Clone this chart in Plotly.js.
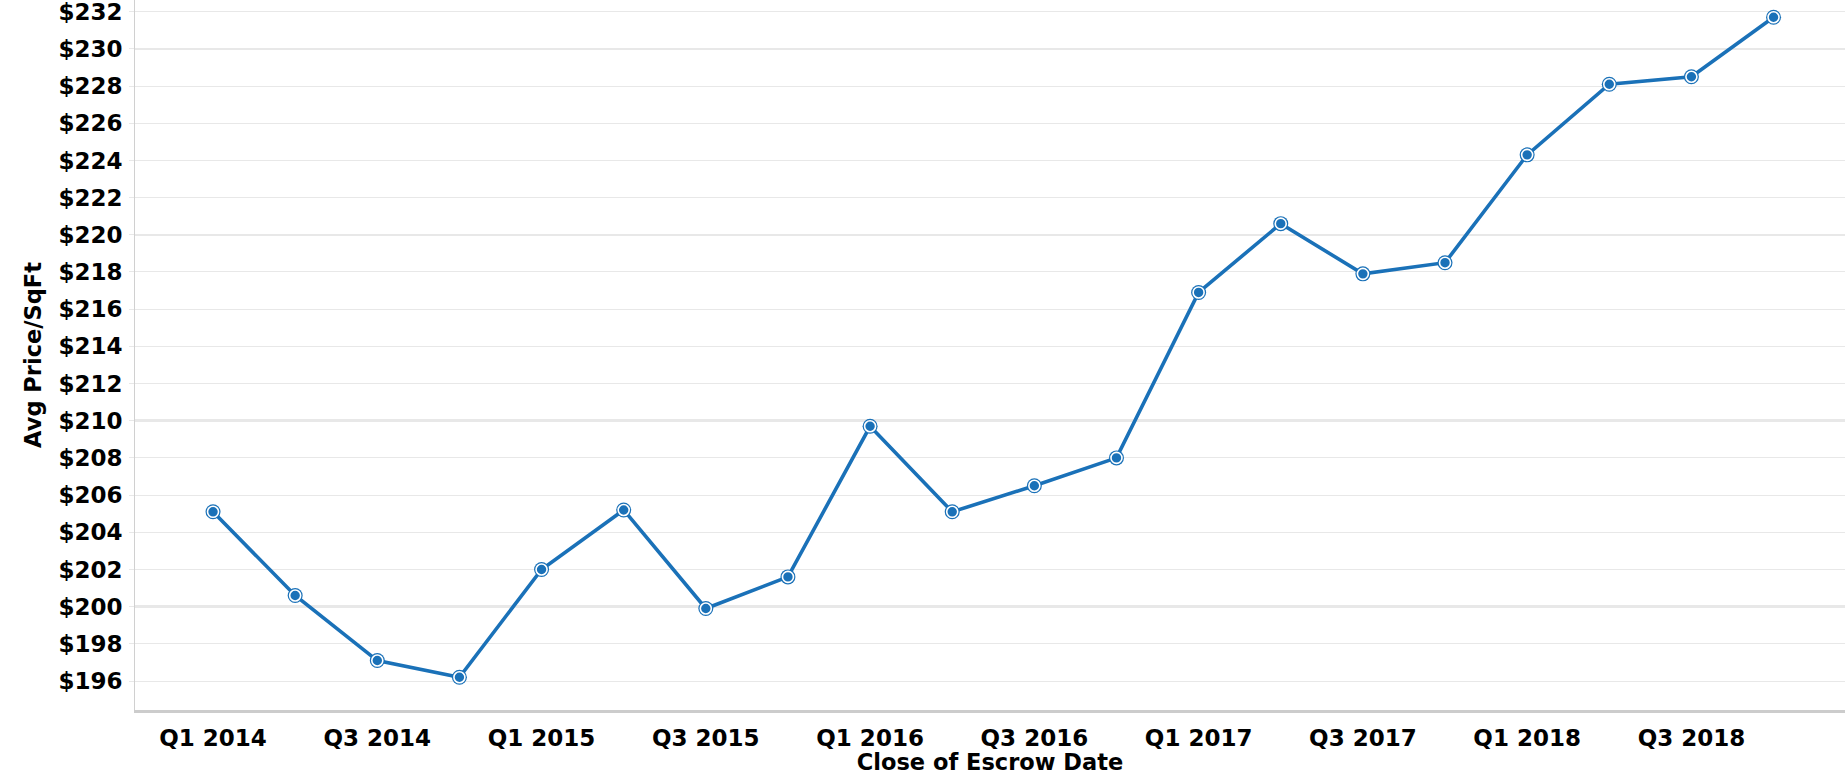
<!DOCTYPE html>
<html>
<head>
<meta charset="utf-8">
<script src="https://cdn.plot.ly/plotly-3.0.1.min.js"></script>
<style>html,body{margin:0;padding:0;background:#fff;}#chart{width:1845px;height:775px;}</style>
</head>
<body>
<div id="chart"></div>
<script>
const quarters = ["Q1 2014","Q2 2014","Q3 2014","Q4 2014","Q1 2015","Q2 2015","Q3 2015","Q4 2015","Q1 2016","Q2 2016","Q3 2016","Q4 2016","Q1 2017","Q2 2017","Q3 2017","Q4 2017","Q1 2018","Q2 2018","Q3 2018","Q4 2018"];
const avgPrice = [205.1,200.6,197.1,196.2,202.0,205.2,199.9,201.6,209.7,205.1,206.5,208.0,216.9,220.6,217.9,218.5,224.3,228.1,228.5,231.7];
const xTickLabels = ["Q1 2014","Q3 2014","Q1 2015","Q3 2015","Q1 2016","Q3 2016","Q1 2017","Q3 2017","Q1 2018","Q3 2018"];

const blue = '#1a71b8';
const font = 'DejaVu Sans, Verdana, sans-serif';

const traces = [
  {x: quarters, y: avgPrice, type: 'scatter', mode: 'lines+markers',
   line: {color: blue, width: 3.6},
   marker: {size: 15, color: blue}, hoverinfo: 'skip', showlegend: false},
  {x: quarters, y: avgPrice, type: 'scatter', mode: 'markers',
   marker: {size: 11, color: blue, line: {color: '#ffffff', width: 1.6}},
   showlegend: false},
  {x: quarters, y: avgPrice, type: 'scatter', mode: 'markers', yaxis: 'y2',
   marker: {size: 0.1, opacity: 0}, hoverinfo: 'skip', showlegend: false}
];

const layout = {
  width: 1845, height: 775,
  margin: {l: 135, r: 0, t: 0, b: 65},
  paper_bgcolor: '#ffffff', plot_bgcolor: '#ffffff',
  font: {family: font, color: '#000000'},
  xaxis: {
    type: 'category', categoryorder: 'array', categoryarray: quarters,
    range: [-0.95, 19.87],
    tickvals: xTickLabels, ticktext: xTickLabels,
    showgrid: false, zeroline: false,
    showline: true, linecolor: '#cccccc', linewidth: 3,
    ticks: '', ticklabelstandoff: 5,
    tickfont: {family: font, size: 23, color: '#000000', weight: 'bold'},
    title: {text: 'Close of Escrow Date', standoff: 3,
            font: {family: font, size: 22.5, color: '#000000', weight: 'bold'}}
  },
  yaxis: {
    range: [194.44, 232.63], dtick: 2, tick0: 0,
    tickprefix: '$',
    showgrid: true, gridcolor: '#e8e8e8', gridwidth: 1,
    zeroline: false,
    showline: true, linecolor: '#d0d0d0', linewidth: 1,
    ticks: 'outside', ticklen: 5, tickcolor: '#e8e8e8',
    ticklabelstandoff: 2, ticklabeloverflow: 'allow',
    tickfont: {family: font, size: 23, color: '#000000', weight: 'bold'},
    title: {text: 'Avg Price/SqFt', standoff: 10,
            font: {family: font, size: 22.5, color: '#000000', weight: 'bold'}}
  },
  yaxis2: {
    overlaying: 'y', matches: 'y', dtick: 10, tick0: 0,
    showticklabels: false, ticks: '', showline: false, zeroline: false,
    showgrid: true, gridcolor: '#e8e8e8', gridwidth: 2.5
  }
};

Plotly.newPlot('chart', traces, layout, {displayModeBar: false, staticPlot: true});
</script>
</body>
</html>
